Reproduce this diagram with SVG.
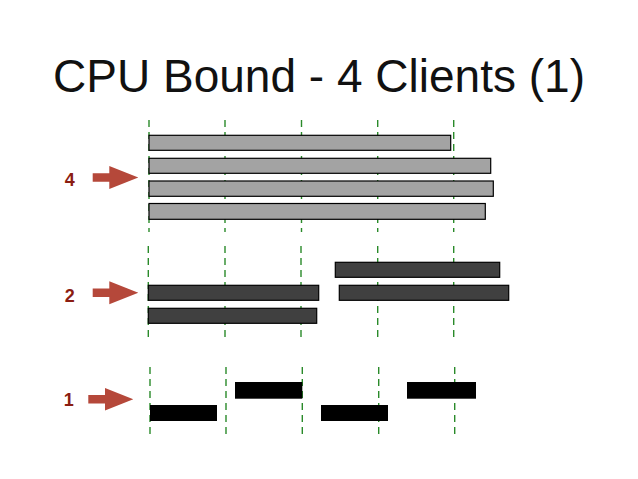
<svg xmlns="http://www.w3.org/2000/svg" width="638" height="479" viewBox="0 0 638 479">
<style>
.grid{stroke:#2a8a2a;stroke-width:1.4;stroke-dasharray:7 5;fill:none}
.b4{fill:#a3a3a3;stroke:#000;stroke-width:1.2}
.b2{fill:#404040;stroke:#000;stroke-width:1.2}
.b1{fill:#000}
.lbl{font-family:"Liberation Sans",Arial,sans-serif;font-weight:bold;font-size:18px;fill:#8b1d12;text-anchor:middle}
.arr{fill:#b5483a}
</style>
<rect width="638" height="479" fill="#fff"/>
<text x="319" y="92" font-family="Liberation Sans,Arial,sans-serif" font-size="46" fill="#111" text-anchor="middle" textLength="532" lengthAdjust="spacingAndGlyphs">CPU Bound - 4 Clients (1)</text>
<g id="connectors">
<g class="grid">
<line x1="149" y1="120" x2="149" y2="232"/>
<line x1="225" y1="120" x2="225" y2="232"/>
<line x1="301.5" y1="120" x2="301.5" y2="232"/>
<line x1="377.7" y1="120" x2="377.7" y2="232"/>
<line x1="453.7" y1="120" x2="453.7" y2="232"/>
<line x1="148.3" y1="246" x2="148.3" y2="338"/>
<line x1="225" y1="246" x2="225" y2="338"/>
<line x1="301" y1="246" x2="301" y2="338"/>
<line x1="377.7" y1="246" x2="377.7" y2="338"/>
<line x1="453.7" y1="246" x2="453.7" y2="338"/>
<line x1="150" y1="367" x2="150" y2="436"/>
<line x1="226" y1="367" x2="226" y2="436"/>
<line x1="302.3" y1="367" x2="302.3" y2="436"/>
<line x1="378.7" y1="367" x2="378.7" y2="436"/>
<line x1="454.7" y1="367" x2="454.7" y2="436"/>
</g>
</g>
<g id="group4">
<rect class="b4" x="149" y="135.3" width="301.7" height="15"/>
<rect class="b4" x="149" y="158.3" width="341.7" height="15"/>
<rect class="b4" x="149" y="181" width="344.3" height="15.3"/>
<rect class="b4" x="149" y="203.5" width="336.3" height="15.8"/>
</g>
<g id="group2">
<rect class="b2" x="148.3" y="285.3" width="170.4" height="15"/>
<rect class="b2" x="148.3" y="308.3" width="168.4" height="15"/>
<rect class="b2" x="335.3" y="262.3" width="164.4" height="15"/>
<rect class="b2" x="339.3" y="285.3" width="169.4" height="15"/>
</g>
<g id="group1">
<rect class="b1" x="150" y="405" width="67" height="16"/>
<rect class="b1" x="235" y="382" width="67.3" height="16.7"/>
<rect class="b1" x="321" y="405" width="67" height="16"/>
<rect class="b1" x="407" y="382" width="69" height="16.7"/>
</g>
<g id="label4">
<text class="lbl" x="69.8" y="186.2">4</text>
<polygon class="arr" points="92.7,173.2 109.3,173.2 109.3,166 138.3,177.5 109.3,189 109.3,181.8 92.7,181.8"/>
</g>
<g id="label2">
<text class="lbl" x="69.8" y="302.3">2</text>
<polygon class="arr" points="92.7,288.4 109.3,288.4 109.3,281.2 138.3,292.7 109.3,304.2 109.3,297 92.7,297"/>
</g>
<g id="label1">
<text class="lbl" x="68.8" y="406">1</text>
<polygon class="arr" points="88.3,395 105,395 105,388 133.3,399.3 105,410.6 105,403.6 88.3,403.6"/>
</g>
</svg>
